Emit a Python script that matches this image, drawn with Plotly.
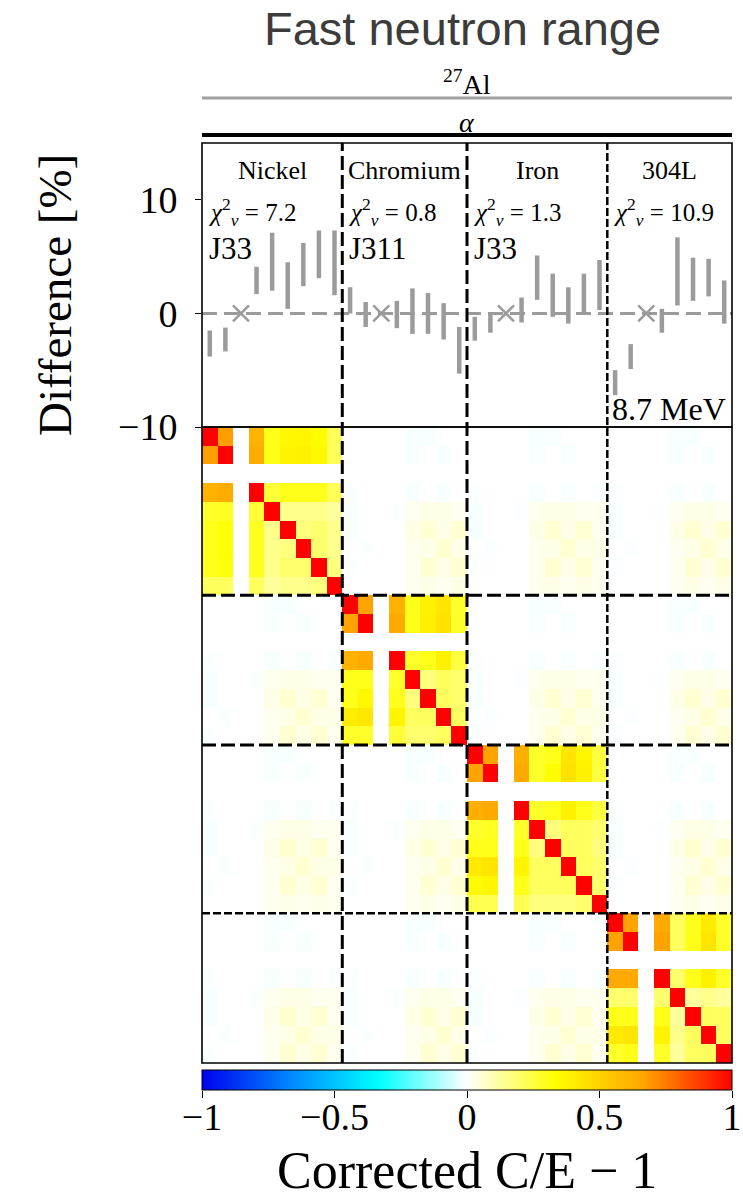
import numpy as np
import plotly.graph_objects as go

# ---------------- data ----------------
GROUPS = ["Nickel", "Chromium", "Iron", "304L"]
GROUP_SIZES = [9, 8, 9, 8]
CHI2 = ["7.2", "0.8", "1.3", "10.9"]
LIBRARY = ["J33", "J311", "J33", ""]
ENERGY_LABEL = "8.7 MeV"

# differences [%] and 1-sigma uncertainty (None = missing measurement, drawn as x)
DIFF_NI = [-2.65, -2.3, None, 2.9, 4.55, 2.45, 4.3, 5.2, 4.45]
ERR_NI = [1.15, 1.05, None, 1.2, 2.55, 2.05, 1.9, 2.1, 2.85]
DIFF_CR = [1.15, -0.1, None, -0.1, 0.2, 0.0, -0.7, -3.25]
ERR_CR = [1.15, 1.1, None, 1.2, 2.0, 1.8, 1.6, 2.05]
DIFF_FE = [-1.35, -0.85, None, 0.3, 3.15, 1.6, 0.7, 1.75, 2.5]
ERR_FE = [1.05, 0.85, None, 1.1, 1.95, 1.9, 1.6, 1.75, 2.2]
DIFF_SS = [-6.1, -3.8, None, -0.65, 3.7, 3.0, 3.15, 1.0]
ERR_SS = [1.1, 1.1, None, 1.05, 3.0, 1.9, 1.65, 1.9]

N = None
CORR_NI = [
    [1.00, 0.68, N, 0.62, 0.30, 0.36, 0.37, 0.34, 0.22],
    [0.68, 1.00, N, 0.64, 0.30, 0.37, 0.38, 0.36, 0.22],
    [N, N, N, N, N, N, N, N, N],
    [0.62, 0.64, N, 1.00, 0.26, 0.30, 0.30, 0.30, 0.22],
    [0.28, 0.29, N, 0.26, 1.00, 0.15, 0.15, 0.15, 0.13],
    [0.30, 0.33, N, 0.29, 0.15, 1.00, 0.17, 0.19, 0.15],
    [0.30, 0.33, N, 0.29, 0.15, 0.17, 1.00, 0.19, 0.15],
    [0.30, 0.32, N, 0.29, 0.15, 0.19, 0.19, 1.00, 0.17],
    [0.21, 0.21, N, 0.21, 0.13, 0.15, 0.15, 0.17, 1.00],
]
CORR_CR = [
    [1.00, 0.67, N, 0.62, 0.30, 0.38, 0.43, 0.28],
    [0.67, 1.00, N, 0.65, 0.30, 0.39, 0.44, 0.28],
    [N, N, N, N, N, N, N, N],
    [0.62, 0.65, N, 1.00, 0.28, 0.30, 0.38, 0.25],
    [0.30, 0.30, N, 0.28, 1.00, 0.17, 0.21, 0.19],
    [0.30, 0.36, N, 0.30, 0.17, 1.00, 0.21, 0.19],
    [0.40, 0.42, N, 0.37, 0.21, 0.21, 1.00, 0.21],
    [0.28, 0.28, N, 0.26, 0.19, 0.19, 0.21, 1.00],
]
CORR_FE = [
    [1.00, 0.67, N, 0.63, 0.28, 0.30, 0.43, 0.37, 0.25],
    [0.67, 1.00, N, 0.65, 0.28, 0.34, 0.44, 0.38, 0.25],
    [N, N, N, N, N, N, N, N, N],
    [0.63, 0.65, N, 1.00, 0.28, 0.30, 0.38, 0.30, 0.25],
    [0.28, 0.29, N, 0.28, 1.00, 0.17, 0.21, 0.21, 0.19],
    [0.30, 0.30, N, 0.30, 0.17, 1.00, 0.21, 0.21, 0.17],
    [0.41, 0.43, N, 0.37, 0.21, 0.21, 1.00, 0.21, 0.19],
    [0.35, 0.37, N, 0.30, 0.21, 0.21, 0.21, 1.00, 0.19],
    [0.23, 0.23, N, 0.23, 0.17, 0.17, 0.17, 0.19, 1.00],
]
CORR_SS = [
    [1.00, 0.67, N, 0.65, 0.21, 0.30, 0.41, 0.28],
    [0.67, 1.00, N, 0.67, 0.21, 0.30, 0.43, 0.28],
    [N, N, N, N, N, N, N, N],
    [0.65, 0.65, N, 1.00, 0.19, 0.30, 0.38, 0.28],
    [0.19, 0.19, N, 0.19, 1.00, 0.13, 0.15, 0.13],
    [0.30, 0.30, N, 0.30, 0.13, 1.00, 0.21, 0.21],
    [0.41, 0.43, N, 0.37, 0.15, 0.21, 1.00, 0.21],
    [0.28, 0.30, N, 0.28, 0.13, 0.21, 0.21, 1.00],
]
# faint correlation seen in every off-diagonal (between-material) block
CORR_CROSS = [
    [0.00, 0.00, N, 0.00, -0.01, -0.01, 0.00, 0.00, 0.00],
    [0.00, 0.00, N, 0.00, -0.01, 0.00, -0.01, 0.00, 0.00],
    [N, N, N, N, N, N, N, N, N],
    [-0.005, 0.00, N, 0.00, -0.01, 0.00, -0.01, 0.00, -0.005],
    [-0.01, 0.00, N, -0.005, 0.02, 0.03, 0.03, 0.02, 0.02],
    [-0.01, 0.00, N, 0.00, 0.03, 0.06, 0.03, 0.06, 0.02],
    [0.00, -0.005, N, 0.00, 0.02, 0.03, 0.06, 0.03, 0.03],
    [-0.005, 0.00, N, 0.00, 0.02, 0.06, 0.03, 0.06, 0.02],
    [0.00, 0.00, N, 0.00, 0.02, 0.03, 0.02, 0.03, 0.02],
]

CB_TICKS = [-1, -0.5, 0, 0.5, 1]
CB_TICKTEXT = ["\u22121", "\u22120.5", "0", "0.5", "1"]
Y_TICKS = [-10, 0, 10]
Y_TICKTEXT = ["\u221210", "0", "10"]

# ---------------- build ----------------
SERIF = "Liberation Serif"
GRAY = "#9b9b9b"

diffs = DIFF_NI + DIFF_CR + DIFF_FE + DIFF_SS
errs = ERR_NI + ERR_CR + ERR_FE + ERR_SS
blocks = [CORR_NI, CORR_CR, CORR_FE, CORR_SS]
ntot = sum(GROUP_SIZES)
idx = list(range(ntot))

def arr(m):
    return np.array([[np.nan if v is None else v for v in row] for row in m], dtype=float)

cross = arr(CORR_CROSS)
offs = np.cumsum([0] + GROUP_SIZES)
Z = np.full((ntot, ntot), np.nan)
for i, ni in enumerate(GROUP_SIZES):
    for j, nj in enumerate(GROUP_SIZES):
        blk = arr(blocks[i]) if i == j else cross[:ni, :nj]
        Z[offs[i]:offs[i] + ni, offs[j]:offs[j] + nj] = blk
Zl = [[None if np.isnan(v) else float(v) for v in row] for row in Z]

colorscale = [
    [0.0, "#0000f0"],
    [1 / 6, "#0088ff"],
    [2 / 6, "#00ffff"],
    [0.5, "#ffffff"],
    [4 / 6, "#ffff00"],
    [5 / 6, "#ffa500"],
    [1.0, "#ff0000"],
]

# pixel -> paper helper (plot area spans y = 143 .. 1140 px)
TOP, BOT = 143, 1140
H = BOT - TOP
def py(px):
    return (BOT - px) / H

fig = go.Figure()

meas = [i for i, d in enumerate(diffs) if d is not None]
miss = [i for i, d in enumerate(diffs) if d is None]
fig.add_trace(go.Scatter(
    x=meas, y=[diffs[i] for i in meas], mode="markers",
    marker=dict(size=1, color="rgba(0,0,0,0)"),
    error_y=dict(type="data", array=[errs[i] for i in meas], visible=True,
                 thickness=4.5, width=0, color=GRAY),
    xaxis="x", yaxis="y", showlegend=False, hoverinfo="skip",
))
fig.add_trace(go.Scatter(
    x=miss, y=[0] * len(miss), mode="markers",
    marker=dict(symbol="x-thin", size=16, color=GRAY, line=dict(width=2.5, color=GRAY)),
    xaxis="x", yaxis="y", showlegend=False, hoverinfo="skip",
))

fig.add_trace(go.Heatmap(
    z=Zl, x=idx, y=idx, colorscale=colorscale, zmin=-1, zmax=1,
    xaxis="x2", yaxis="y2", hoverongaps=False,
    colorbar=dict(
        orientation="h", x=0.5, xanchor="center", y=py(1070), yanchor="top",
        len=1, lenmode="fraction", thickness=20, xpad=0, ypad=0,
        outlinewidth=1, outlinecolor="black",
        tickvals=CB_TICKS, ticks="", showticklabels=False,
    ),
))
# anchor trace (invisible) so the colour-bar scale axis is drawn
fig.add_trace(go.Scatter(
    x=CB_TICKS, y=[0.5] * len(CB_TICKS), mode="markers",
    marker=dict(size=1, color="rgba(0,0,0,0)"),
    xaxis="x3", yaxis="y3", showlegend=False, hoverinfo="skip",
))

split = py(427)
axis_common = dict(showgrid=False, zeroline=False, showline=False)
fig.update_layout(
    width=743, height=1200,
    margin=dict(l=202, r=11, t=TOP, b=1200 - BOT, autoexpand=False),
    paper_bgcolor="white", plot_bgcolor="white",
    xaxis=dict(domain=[0, 1], range=[-0.5, ntot - 0.5], showticklabels=False, ticks="",
               anchor="y", **axis_common),
    yaxis=dict(domain=[split, 1], range=[-10, 15], tickvals=Y_TICKS, ticktext=Y_TICKTEXT,
               ticks="outside", ticklen=6, tickwidth=1.2, tickcolor="black",
               ticklabelstandoff=10,
               tickfont=dict(family=SERIF, size=38, color="black"), anchor="x", **axis_common),
    xaxis2=dict(domain=[0, 1], range=[-0.5, ntot - 0.5], showticklabels=False, ticks="",
                anchor="y2", **axis_common),
    yaxis2=dict(domain=[py(1063), split], range=[ntot - 0.5, -0.5], showticklabels=False,
                ticks="", anchor="x2", **axis_common),
    # scale axis for the colour bar (ticks and tick labels)
    xaxis3=dict(domain=[0, 1], range=[-1, 1], anchor="y3", side="bottom",
                tickvals=CB_TICKS, ticktext=CB_TICKTEXT, ticks="outside", ticklen=7,
                tickwidth=1.2, tickcolor="black", showline=False, showgrid=False,
                zeroline=False, ticklabelstandoff=-14,
                tickfont=dict(family=SERIF, size=38, color="black")),
    yaxis3=dict(domain=[py(1090), py(1070)], range=[0, 1], anchor="x3", visible=False),
)

shapes = []
shapes.append(dict(type="line", xref="x domain", yref="y", x0=0, x1=1, y0=0, y1=0,
                   line=dict(color=GRAY, width=3, dash="15px,7px"), layer="below"))
bounds = [offs[k] - 0.5 for k in range(1, len(GROUP_SIZES))]
styles = [dict(width=3, dash="14px,5px"), dict(width=3, dash="14px,5px"), dict(width=2.5, dash="8px,3px")]
for b, st in zip(bounds, styles):
    shapes.append(dict(type="line", xref="x", yref="paper", x0=b, x1=b, y0=py(1063), y1=1,
                       line=dict(color="black", **st)))
    shapes.append(dict(type="line", xref="paper", yref="y2", x0=0, x1=1, y0=b, y1=b,
                       line=dict(color="black", **st)))
# panel frames
shapes.append(dict(type="rect", xref="x domain", yref="y domain", x0=0, x1=1, y0=0, y1=1,
                   line=dict(color="black", width=1.6), fillcolor="rgba(0,0,0,0)", layer="above"))
shapes.append(dict(type="rect", xref="x2 domain", yref="y2 domain", x0=0, x1=1, y0=0, y1=1,
                   line=dict(color="black", width=1.6), fillcolor="rgba(0,0,0,0)", layer="above"))
# header lines
shapes.append(dict(type="line", xref="paper", yref="paper", x0=0, x1=1,
                   y0=py(98), y1=py(98), line=dict(color="#a0a0a0", width=3)))
shapes.append(dict(type="line", xref="paper", yref="paper", x0=0, x1=1,
                   y0=py(135), y1=py(135), line=dict(color="black", width=4)))
fig.update_layout(shapes=shapes)

ann = []
ann.append(dict(text="Fast neutron range", xref="paper", yref="paper", x=0.4906,
                y=py(29), xanchor="center", yanchor="middle", showarrow=False,
                font=dict(family="Liberation Sans", size=47, color="#3c3c3c")))
ann.append(dict(text="<sup>27</sup>Al", xref="paper", yref="paper", x=0.5,
                y=py(82), xanchor="center", yanchor="middle", showarrow=False,
                font=dict(family=SERIF, size=28, color="black")))
ann.append(dict(text="<i>α</i>", xref="paper", yref="paper", x=0.5,
                y=py(122), xanchor="center", yanchor="middle", showarrow=False,
                font=dict(family=SERIF, size=28, color="black")))
ann.append(dict(text="Difference [%]", xref="paper", yref="paper", x=(55 - 202) / 530,
                y=py(295), xanchor="center", yanchor="middle", textangle=-90,
                showarrow=False, font=dict(family=SERIF, size=47, color="black")))
ann.append(dict(text="Corrected C/E \u2212 1", xref="paper", yref="paper", x=0.5,
                y=py(1170), xanchor="center", yanchor="middle", showarrow=False,
                font=dict(family=SERIF, size=52, color="black")))
for k, name in enumerate(GROUPS):
    start = offs[k] - 0.5
    center = offs[k] + (GROUP_SIZES[k] - 1) / 2
    ann.append(dict(text=name, xref="x", yref="y", x=center, y=12.6, xanchor="center",
                    yanchor="middle", showarrow=False, font=dict(family=SERIF, size=26, color="black")))
    ann.append(dict(text="<i>χ</i><sup>2</sup><sub><i>ν</i></sub> = " + CHI2[k], xref="x", yref="y",
                    x=start + 0.3, y=8.9, xanchor="left", yanchor="middle", showarrow=False,
                    font=dict(family=SERIF, size=25, color="black")))
    if LIBRARY[k]:
        ann.append(dict(text=LIBRARY[k], xref="x", yref="y", x=start + 0.3, y=5.7, xanchor="left",
                        yanchor="middle", showarrow=False, font=dict(family=SERIF, size=31, color="black")))
ann.append(dict(text=ENERGY_LABEL, xref="x", yref="y", x=offs[3] - 0.5 + 0.2, y=-8.4, xanchor="left",
                yanchor="middle", showarrow=False, font=dict(family=SERIF, size=32, color="black")))
fig.update_layout(annotations=ann)

fig.write_html("out.html")
